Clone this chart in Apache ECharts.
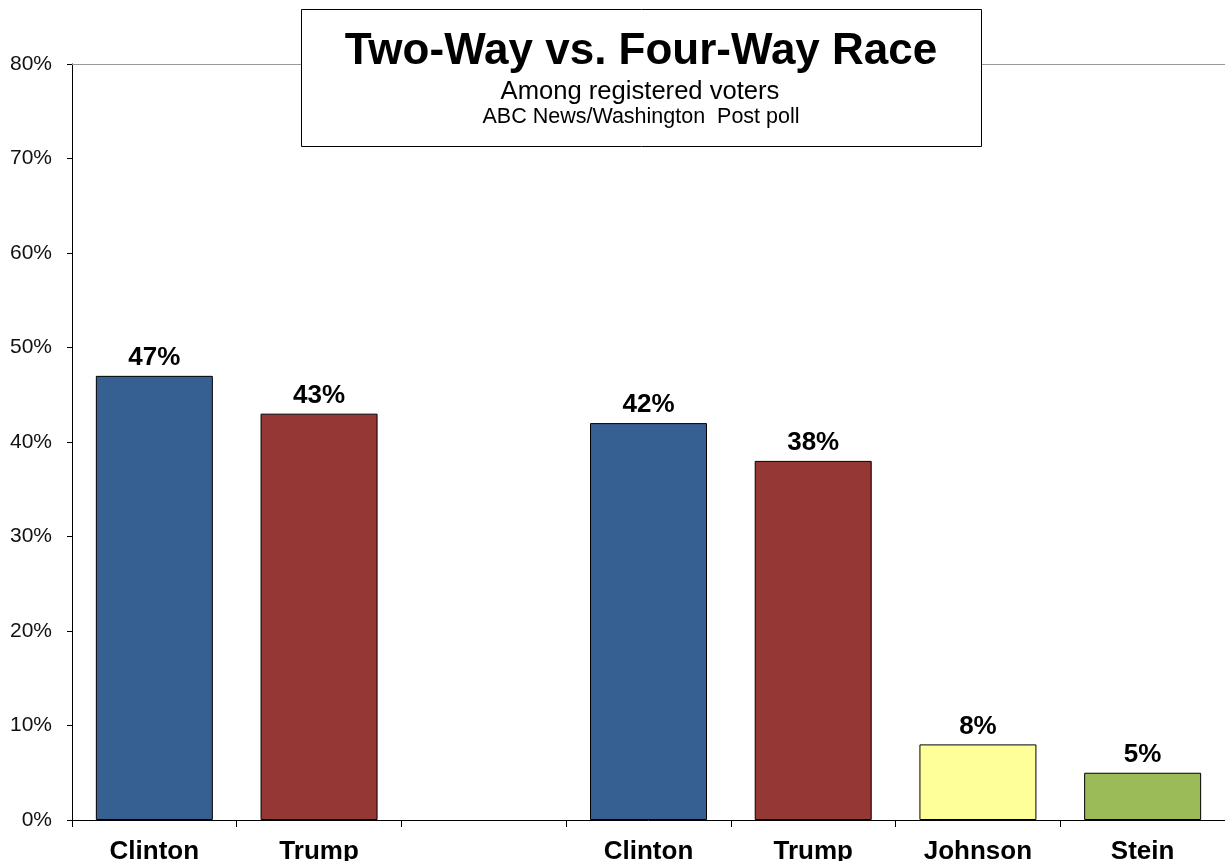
<!DOCTYPE html>
<html>
<head>
<meta charset="utf-8">
<script src="https://cdn.jsdelivr.net/npm/echarts@6/dist/echarts.min.js"></script>
<style>html,body{margin:0;padding:0;background:#fff;}#c{width:1225px;height:861px;}</style>
</head>
<body>
<div id="c"></div>
<script>
var categories = ['Clinton', 'Trump', '', 'Clinton', 'Trump', 'Johnson', 'Stein'];
var values = [47, 43, null, 42, 38, 8, 5];
var barColors = ['#376092', '#953735', '#ffffff', '#376092', '#953735', '#FFFF99', '#9BBB59'];
var yTicks = [0, 10, 20, 30, 40, 50, 60, 70, 80];
var titleText = 'Two-Way vs. Four-Way Race';
var subText1 = 'Among registered voters';
var subText2 = 'ABC News/Washington  Post poll';

var chart = echarts.init(document.getElementById('c'), null, {renderer: 'canvas'});
var font = '"Liberation Sans", Arial, sans-serif';
chart.setOption({
  animation: false,
  backgroundColor: '#fff',
  grid: {left: 72, right: 0, top: 64, bottom: 41, containLabel: false, outerBoundsMode: 'none'},
  xAxis: [{
    type: 'category',
    data: categories,
    position: 'bottom',
    axisLine: {show: true, lineStyle: {color: '#000', width: 1}},
    axisTick: {show: true, alignWithLabel: false, length: 7, lineStyle: {color: '#000'}},
    axisLabel: {color: '#000', fontFamily: font, fontWeight: 'bold', fontSize: 26, margin: 19, interval: 0}
  }, {
    type: 'category',
    data: categories,
    position: 'top',
    axisLine: {show: true, lineStyle: {color: '#999', width: 1}},
    axisTick: {show: false},
    axisLabel: {show: false}
  }],
  yAxis: {
    type: 'value',
    min: 0, max: 80, interval: 10,
    axisLine: {show: true, lineStyle: {color: '#000'}},
    axisTick: {show: true, length: 5, inside: false, lineStyle: {color: '#000'}},
    splitLine: {show: false},
    axisLabel: {color: '#111', fontFamily: font, fontSize: 21, margin: 20,
      formatter: function (v) { return yTicks.indexOf(v) >= 0 ? v + '%' : ''; }}
  },
  series: [{
    type: 'bar',
    barWidth: 117,
    data: values.map(function (v, i) {
      return {value: v, itemStyle: {color: barColors[i]}};
    }),
    itemStyle: {borderColor: '#000', borderWidth: 1},
    label: {show: true, position: 'top', distance: 5, color: '#000', fontFamily: font,
      fontWeight: 'bold', fontSize: 26, formatter: function (p) { return p.value + '%'; }}
  }],
  graphic: [{
    type: 'group',
    z: 100,
    children: [
      {type: 'rect', z: 100, shape: {x: 301.5, y: 9.5, width: 680, height: 137},
       style: {fill: '#fff', stroke: '#000', lineWidth: 1}},
      {type: 'text', z: 101, x: 641, y: 52, style: {text: titleText, fill: '#000', font: 'bold 44px ' + font, textAlign: 'center', textVerticalAlign: 'middle'}},
      {type: 'text', z: 101, x: 640, y: 92, style: {text: subText1, fill: '#000', font: '25.6px ' + font, textAlign: 'center', textVerticalAlign: 'middle'}},
      {type: 'text', z: 101, x: 641, y: 117, style: {text: subText2, fill: '#000', font: '21.5px ' + font, textAlign: 'center', textVerticalAlign: 'middle'}}
    ]
  }]
});
</script>
</body>
</html>
